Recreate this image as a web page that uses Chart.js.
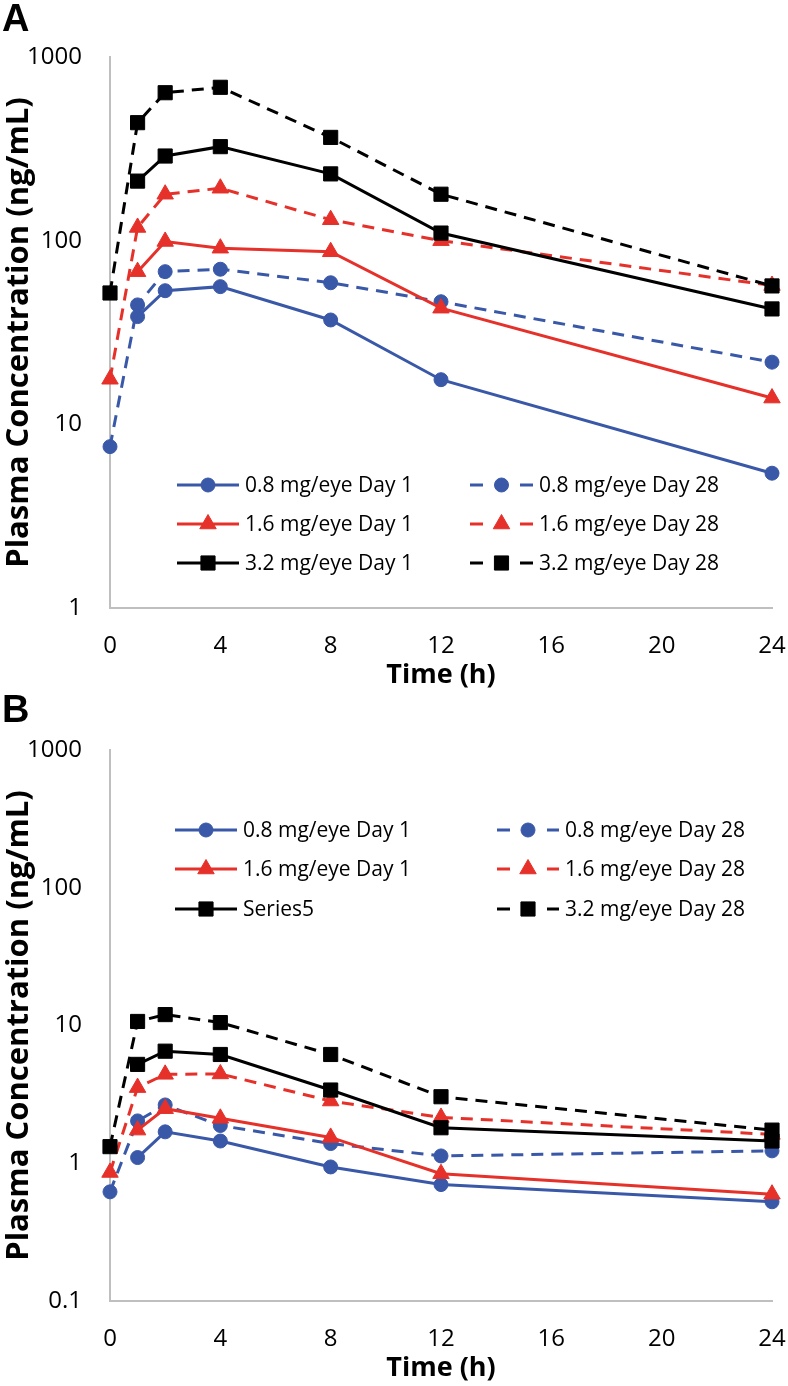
<!DOCTYPE html>
<html>
<head>
<meta charset="utf-8">
<script src="https://cdn.jsdelivr.net/npm/chart.js@4/dist/chart.umd.min.js"></script>
<style>
  html, body { margin: 0; padding: 0; background: #fff; }
  .panel { position: relative; width: 788px; height: 693px; }
  .panel canvas { position: absolute; left: 0; top: 0; }
  .letter { position: absolute; left: 2px; font-family: "Liberation Sans", Arial, sans-serif; font-weight: bold; font-size: 38px; line-height: 38px; color: #000; z-index: 2; }
</style>
</head>
<body>
<div class="panel"><div class="letter" style="top:-1px">A</div><canvas id="chartA" width="788" height="693"></canvas></div>
<div class="panel"><div class="letter" style="top:-3px">B</div><canvas id="chartB" width="788" height="693"></canvas></div>
<script>
// ---------------- DATA ----------------
const timesDay1 = [1, 2, 4, 8, 12, 24];
const timesDay28 = [0, 1, 2, 4, 8, 12, 24];
const xTicks = [0, 4, 8, 12, 16, 20, 24];

// Panel A
const a_08_day1  = [38.6, 53.4, 56.2, 37.0, 17.5, 5.42];
const a_08_day28 = [7.56, 44.7, 67.8, 69.9, 59.0, 46.5, 21.8];
const a_16_day1  = [67.8, 99.0, 91.0, 87.0, 42.9, 13.9];
const a_16_day28 = [17.6, 118, 179, 193, 130, 100, 57.0];
const a_32_day1  = [211, 289, 325, 231, 110, 42.5];
const a_32_day28 = [51.9, 439, 639, 684, 365, 179, 56.7];
const a_yTicks = [1, 10, 100, 1000];
const a_names = ["0.8 mg/eye Day 1", "0.8 mg/eye Day 28", "1.6 mg/eye Day 1", "1.6 mg/eye Day 28", "3.2 mg/eye Day 1", "3.2 mg/eye Day 28"];

// Panel B
const b_08_day1  = [1.10, 1.69, 1.45, 0.94, 0.70, 0.525];
const b_08_day28 = [0.62, 2.03, 2.65, 1.88, 1.39, 1.13, 1.23];
const b_16_day1  = [1.74, 2.49, 2.12, 1.54, 0.84, 0.596];
const b_16_day28 = [0.857, 3.54, 4.42, 4.45, 2.83, 2.15, 1.62];
const b_32_day1  = [5.22, 6.51, 6.16, 3.40, 1.81, 1.45];
const b_32_day28 = [1.32, 10.7, 12.0, 10.5, 6.16, 3.04, 1.74];
const b_yTicks = [0.1, 1, 10, 100, 1000];
const b_names = ["0.8 mg/eye Day 1", "0.8 mg/eye Day 28", "1.6 mg/eye Day 1", "1.6 mg/eye Day 28", "Series5", "3.2 mg/eye Day 28"];

const yTitle = "Plasma Concentration (ng/mL)";
const xTitle = "Time (h)";

// ---------------- STYLE ----------------
const BLUE = '#3A58A8';
const RED = '#E5312A';
const BLACK = '#000000';
const FONT = '"Open Sans", "Noto Sans", sans-serif';
const seriesStyle = [
  { color: BLUE,  dash: [],      style: 'circle',   radius: 7 },
  { color: BLUE,  dash: [12, 8], style: 'circle',   radius: 7 },
  { color: RED,   dash: [],      style: 'triangle', radius: 9.5 },
  { color: RED,   dash: [12, 8], style: 'triangle', radius: 9.5 },
  { color: BLACK, dash: [],      style: 'rect',     radius: 10 },
  { color: BLACK, dash: [12, 8], style: 'rect',     radius: 10 },
];

function pts(xs, ys) { return xs.map((x, i) => ({ x: x, y: ys[i] })); }

function makeDatasets(names, seriesList) {
  return seriesList.map((s, i) => {
    const st = seriesStyle[i];
    return {
      label: names[i],
      data: pts(s.x, s.y),
      borderColor: st.color,
      backgroundColor: st.color,
      borderWidth: 3,
      borderDash: st.dash,
      pointStyle: st.style,
      pointRadius: st.radius,
      pointHoverRadius: st.radius,
      pointBorderWidth: 1,
      pointBackgroundColor: st.color,
      pointBorderColor: st.color,
      tension: 0,
      clip: false,
      order: 10 - i
    };
  });
}

function drawMarker(ctx, style, r, x, y) {
  ctx.beginPath();
  if (style === 'circle') {
    ctx.arc(x, y, r, 0, Math.PI * 2);
  } else if (style === 'triangle') {
    let rad = 0;
    ctx.moveTo(x + Math.sin(rad) * r, y - Math.cos(rad) * r);
    rad += 2 * Math.PI / 3;
    ctx.lineTo(x + Math.sin(rad) * r, y - Math.cos(rad) * r);
    rad += 2 * Math.PI / 3;
    ctx.lineTo(x + Math.sin(rad) * r, y - Math.cos(rad) * r);
    ctx.closePath();
  } else {
    const s = Math.SQRT1_2 * r;
    ctx.rect(x - s, y - s, 2 * s, 2 * s);
  }
  ctx.fill();
  ctx.lineWidth = 1;
  ctx.stroke();
}

const insideLegend = {
  id: 'insideLegend',
  afterDatasetsDraw(chart, args, opts) {
    const ctx = chart.ctx;
    ctx.save();
    chart.data.datasets.forEach((ds, i) => {
      const st = seriesStyle[i];
      const col = i % 2;
      const row = Math.floor(i / 2);
      const c = opts.cols[col];
      const y = opts.rows[row];
      ctx.strokeStyle = st.color;
      ctx.fillStyle = st.color;
      ctx.lineWidth = 3;
      ctx.setLineDash(st.dash.length ? [13, 37] : []);
      ctx.beginPath();
      ctx.moveTo(c.x1, y);
      ctx.lineTo(c.x2, y);
      ctx.stroke();
      ctx.setLineDash([]);
      drawMarker(ctx, st.style, st.radius, (c.x1 + c.x2) / 2, y);
      ctx.fillStyle = '#000';
      ctx.font = '21px ' + FONT;
      ctx.textAlign = 'left';
      ctx.textBaseline = 'middle';
      ctx.fillText(ds.label, c.tx, y + 1);
    });
    ctx.restore();
  }
};

function makeChart(id, names, seriesList, yMin, yTicks, legendOpts) {
  return new Chart(document.getElementById(id), {
    type: 'line',
    data: { datasets: makeDatasets(names, seriesList) },
    plugins: [insideLegend],
    options: {
      responsive: false,
      animation: false,
      events: [],
      layout: { padding: { left: 0, right: 0, top: 57, bottom: 0 } },
      plugins: {
        legend: { display: false },
        tooltip: { enabled: false },
        insideLegend: legendOpts
      },
      scales: {
        x: {
          type: 'linear',
          min: 0, max: 24,
          afterBuildTicks: (s) => { s.ticks = xTicks.map(v => ({ value: v })); },
          afterFit: (s) => { s.height = 85; s.paddingLeft = 0; s.paddingRight = 16; },
          grid: { display: false, drawTicks: false },
          border: { display: true, color: '#BFBFBF', width: 2 },
          ticks: { color: '#000', font: { family: FONT, size: 24 }, padding: 24, maxRotation: 0 },
          title: { display: true, text: xTitle, color: '#000', font: { family: FONT, size: 27, weight: 'bold' }, padding: { top: 0, bottom: 1 } }
        },
        y: {
          type: 'logarithmic',
          min: yMin, max: 1000,
          afterBuildTicks: (s) => { s.ticks = yTicks.map(v => ({ value: v })); },
          afterFit: (s) => { s.width = 110; },
          grid: { display: false, drawTicks: false },
          border: { display: true, color: '#BFBFBF', width: 2 },
          ticks: { color: '#000', font: { family: FONT, size: 24 }, padding: 28, callback: (v) => String(v) },
          title: { display: true, text: yTitle, color: '#000', font: { family: FONT, size: 31, weight: 'bold' }, padding: { top: 1, bottom: 0 } }
        }
      }
    }
  });
}

makeChart('chartA', a_names, [
  { x: timesDay1, y: a_08_day1 }, { x: timesDay28, y: a_08_day28 },
  { x: timesDay1, y: a_16_day1 }, { x: timesDay28, y: a_16_day28 },
  { x: timesDay1, y: a_32_day1 }, { x: timesDay28, y: a_32_day28 }
], 1, a_yTicks, {
  cols: [{ x1: 177, x2: 239, tx: 245 }, { x1: 470, x2: 533, tx: 539 }],
  rows: [485, 524, 563]
});

makeChart('chartB', b_names, [
  { x: timesDay1, y: b_08_day1 }, { x: timesDay28, y: b_08_day28 },
  { x: timesDay1, y: b_16_day1 }, { x: timesDay28, y: b_16_day28 },
  { x: timesDay1, y: b_32_day1 }, { x: timesDay28, y: b_32_day28 }
], 0.1, b_yTicks, {
  cols: [{ x1: 175, x2: 237, tx: 243 }, { x1: 497, x2: 559, tx: 565 }],
  rows: [137, 176, 216]
});
</script>
</body>
</html>
